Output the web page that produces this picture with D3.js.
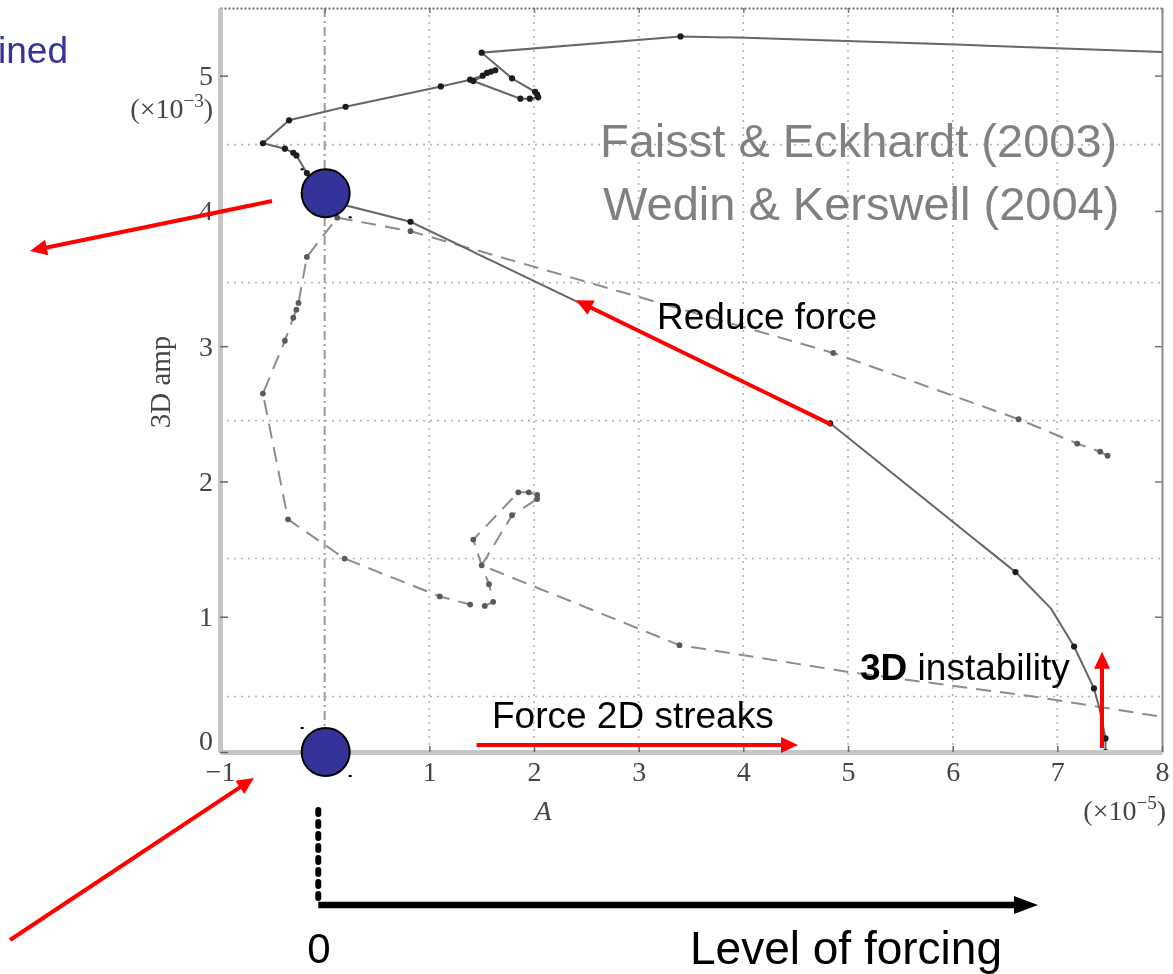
<!DOCTYPE html>
<html>
<head>
<meta charset="utf-8">
<script src="https://cdn.jsdelivr.net/npm/d3@7"></script>
<style>
  html, body { margin: 0; padding: 0; background: #fff; overflow: hidden; }
  svg { display: block; }
</style>
</head>
<body>
<svg id="chart" width="1173" height="974"></svg>
<script>
// ---- data ----------------------------------------------------------------
const xTicks = [-1, 0, 1, 2, 3, 4, 5, 6, 7, 8];      // A (x10^-5)
const yTicks = [0, 1, 2, 3, 4, 5];                    // 3D amp (x10^-3)
const hGrid  = [0.41, 1.43, 2.45, 3.47, 4.49];        // horizontal grid levels

// upper branch (solid): [A, 3D amp, computed point?]
const upperBranch = [
  [7.46, 0.00, 1], [7.46, 0.10, 1], [7.40, 0.33, 0], [7.35, 0.47, 1],
  [7.16, 0.78, 1], [6.94, 1.06, 0], [6.60, 1.33, 1], [4.83, 2.43, 1],
  [0.82, 3.92, 1], [0.00, 4.08, 0], [-0.17, 4.28, 1], [-0.27, 4.41, 1],
  [-0.30, 4.43, 1], [-0.38, 4.46, 1], [-0.59, 4.50, 1], [-0.34, 4.67, 1],
  [0.20, 4.77, 1], [1.11, 4.92, 1], [1.39, 4.97, 1], [1.51, 5.00, 1],
  [1.55, 5.02, 1], [1.59, 5.03, 1], [1.63, 5.04, 1], [1.42, 4.96, 1],
  [1.87, 4.83, 1], [1.96, 4.83, 1], [2.04, 4.84, 1], [2.03, 4.86, 1],
  [2.01, 4.88, 1], [1.79, 4.98, 1], [1.50, 5.17, 1], [3.40, 5.29, 1],
  [4.02, 5.28, 0], [6.03, 5.23, 0], [7.06, 5.20, 0], [8.00, 5.175, 0]
];

// lower branch (dashed): [A, 3D amp, computed point?]
const lowerBranch = [
  [7.48, 2.19, 1], [7.41, 2.22, 1], [7.19, 2.28, 1], [6.63, 2.46, 1],
  [4.86, 2.95, 1], [0.82, 3.85, 1], [0.12, 3.95, 1], [-0.17, 3.66, 1],
  [-0.25, 3.32, 1], [-0.27, 3.27, 1], [-0.30, 3.21, 1], [-0.38, 3.04, 1],
  [-0.59, 2.65, 1], [-0.35, 1.72, 1], [0.19, 1.43, 1], [1.10, 1.15, 1],
  [1.39, 1.09, 1], [1.53, 1.08, 1], [1.61, 1.11, 1], [1.57, 1.24, 1],
  [1.50, 1.38, 1], [1.42, 1.57, 1], [1.85, 1.92, 1], [1.95, 1.92, 1],
  [2.03, 1.90, 1], [2.03, 1.87, 1], [1.79, 1.75, 1], [1.50, 1.38, 0],
  [3.39, 0.79, 1], [5.02, 0.59, 0], [6.77, 0.41, 0], [8.00, 0.26, 0]
];

// highlighted states: upper-branch state at zero forcing, laminar state
const states = [[0, 4.13], [0, 0]];

// annotation arrows, [tail, tip] in (A, amp) units
const redArrows = [
  [[-0.503, 4.073], [-2.815, 3.704]],
  [[-3.006, -1.390], [-0.675, -0.192]],
  [[4.84, 2.42], [2.40, 3.34]],
  [[1.452, 0.052], [4.522, 0.052]],
  [[7.427, 0.030], [7.427, 0.741]]
];
const forcingStem  = [[-0.061, -0.429], [-0.061, -1.131]];
const forcingShaft = [[-0.061, -1.131], [6.815, -1.131]];

// ---- scales --------------------------------------------------------------
const svg = d3.select("#chart");
const x = d3.scaleLinear().domain([-1, 8]).range([220, 1162]);
const y = d3.scaleLinear().domain([0, 5.5]).range([752, 8]);

const defs = svg.append("defs");
defs.append("filter").attr("id", "soft")
  .attr("x", "-5%").attr("y", "-5%").attr("width", "110%").attr("height", "110%")
  .append("feGaussianBlur").attr("stdDeviation", 0.55);
defs.append("clipPath").attr("id", "plotClip")
  .append("rect")
  .attr("x", x(-1)).attr("y", y(5.5))
  .attr("width", x(8) - x(-1)).attr("height", y(0) - y(5.5));

const SERIF = "'Liberation Serif', 'DejaVu Serif', serif";
const SANS = "'Liberation Sans', Arial, sans-serif";
const fmtTick = d => d < 0 ? "\u2212" + Math.abs(d) : String(d);

// ---- plot (figure panel) -------------------------------------------------
const plot = svg.append("g").attr("filter", "url(#soft)");

// vertical grid
plot.append("g").selectAll("line")
  .data(xTicks.filter(d => d > -1 && d < 8))
  .join("line")
  .attr("x1", d => x(d)).attr("x2", d => x(d))
  .attr("y1", y(5.5)).attr("y2", y(0))
  .attr("stroke", d => d === 0 ? "#9a9a9a" : "#b4b4b4")
  .attr("stroke-width", d => d === 0 ? 2 : 1.6)
  .attr("stroke-dasharray", d => d === 0 ? "9,4,2,4" : "2,5");

// horizontal grid
plot.append("g").selectAll("line")
  .data(hGrid)
  .join("line")
  .attr("x1", x(-1)).attr("x2", x(8))
  .attr("y1", d => y(d)).attr("y2", d => y(d))
  .attr("stroke", "#b4b4b4").attr("stroke-width", 1.6)
  .attr("stroke-dasharray", "2,5");

// top and right frame
const topAxis = plot.append("g").attr("transform", `translate(0,${y(5.5)})`)
  .call(d3.axisTop(x).tickValues(xTicks).tickSize(-5).tickSizeOuter(0).tickFormat(""));
topAxis.select(".domain").attr("stroke", "#6e6e6e").attr("stroke-width", 2).attr("stroke-dasharray", "2,2");
topAxis.selectAll(".tick line").attr("stroke", "#777").attr("stroke-width", 1.5);

const rightAxis = plot.append("g").attr("transform", `translate(${x(8)},0)`)
  .call(d3.axisRight(y).tickValues(yTicks).tickSize(-7).tickSizeOuter(0).tickFormat(""));
rightAxis.select(".domain").attr("stroke", "#8a8a8a").attr("stroke-width", 2);
rightAxis.selectAll(".tick line").attr("stroke", "#777").attr("stroke-width", 1.5);

// curves
const line = d3.line().x(d => x(d[0])).y(d => y(d[1]));
const curves = plot.append("g").attr("clip-path", "url(#plotClip)");

curves.append("path").datum(lowerBranch)
  .attr("d", line).attr("fill", "none")
  .attr("stroke", "#8c8c8c").attr("stroke-width", 2)
  .attr("stroke-dasharray", "15,9");
curves.append("g").selectAll("circle")
  .data(lowerBranch.filter(d => d[2]))
  .join("circle")
  .attr("cx", d => x(d[0])).attr("cy", d => y(d[1])).attr("r", 2.9)
  .attr("fill", "#5a5a5a");

curves.append("path").datum(upperBranch)
  .attr("d", line).attr("fill", "none")
  .attr("stroke", "#666").attr("stroke-width", 2);
curves.append("g").selectAll("circle")
  .data(upperBranch.filter(d => d[2]))
  .join("circle")
  .attr("cx", d => x(d[0])).attr("cy", d => y(d[1])).attr("r", 3.1)
  .attr("fill", "#1c1c1c");

// left and bottom axes
const xAxis = plot.append("g").attr("transform", `translate(0,${y(0)})`)
  .call(d3.axisBottom(x).tickValues(xTicks).tickSize(-6).tickSizeOuter(0)
    .tickPadding(9).tickFormat(d => d === 0 ? "" : fmtTick(d)));
const yAxis = plot.append("g").attr("transform", `translate(${x(-1)},0)`)
  .call(d3.axisLeft(y).tickValues(yTicks).tickSize(-8).tickSizeOuter(0)
    .tickPadding(7).tickFormat(fmtTick));

[xAxis, yAxis].forEach(ax => {
  ax.select(".domain").attr("stroke", "#c6c6c6").attr("stroke-width", 5);
  ax.selectAll(".tick line").attr("stroke", "#666").attr("stroke-width", 1.5);
  ax.selectAll(".tick text")
    .attr("font-family", SERIF).attr("font-size", 28).attr("fill", "#444");
});
yAxis.selectAll(".tick").filter(d => d === 0).select("text").attr("dy", "-0.1em");

// axis titles and multipliers
const sup = (g, xPos, yPos, exp) => {
  const t = g.append("text").attr("x", xPos).attr("y", yPos)
    .attr("text-anchor", "end").attr("font-family", SERIF)
    .attr("font-size", 28).attr("fill", "#444");
  t.append("tspan").text("(×10");
  t.append("tspan").attr("dy", -11).attr("font-size", 19).text("−" + exp);
  t.append("tspan").attr("dy", 11).text(")");
};
sup(plot, 213, 118, 3);
sup(plot, 1166, 820, 5);

plot.append("text")
  .attr("x", 543).attr("y", 820).attr("text-anchor", "middle")
  .attr("font-family", SERIF).attr("font-style", "italic")
  .attr("font-size", 28).attr("fill", "#444").text("A");

plot.append("text")
  .attr("transform", "translate(160,382) rotate(-90)")
  .attr("text-anchor", "middle").attr("dy", "0.35em")
  .attr("font-family", SERIF).attr("font-size", 29).attr("fill", "#444")
  .text("3D amp");

// ---- overlay annotations -------------------------------------------------
const over = svg.append("g");

over.append("text").attr("x", 68).attr("y", 63).attr("text-anchor", "end")
  .attr("font-family", SANS).attr("font-size", 37).attr("fill", "#333399")
  .text("ined");

over.append("g").selectAll("text")
  .data(["Faisst & Eckhardt (2003)", "Wedin & Kerswell (2004)"])
  .join("text")
  .attr("x", (d, i) => i ? 603 : 600).attr("y", (d, i) => 157 + i * 63)
  .attr("font-family", SANS).attr("font-size", 47).attr("fill", "#808080")
  .text(d => d);

over.append("text").attr("x", 657).attr("y", 329)
  .attr("font-family", SANS).attr("font-size", 37).attr("fill", "#000")
  .text("Reduce force");

over.append("text").attr("x", 492).attr("y", 728)
  .attr("font-family", SANS).attr("font-size", 37).attr("fill", "#000")
  .text("Force 2D streaks");

const inst = over.append("text").attr("x", 860).attr("y", 680)
  .attr("font-family", SANS).attr("font-size", 37).attr("fill", "#000");
inst.append("tspan").attr("font-weight", "bold").text("3D");
inst.append("tspan").text(" instability");

// arrow helper: shaft shortened to the base of a triangular head
function arrow(g, p0, p1, color, width, headLen, headHalf) {
  const [x0, y0] = [x(p0[0]), y(p0[1])];
  const [x1, y1] = [x(p1[0]), y(p1[1])];
  const len = Math.hypot(x1 - x0, y1 - y0);
  const ux = (x1 - x0) / len, uy = (y1 - y0) / len;
  const bx = x1 - ux * headLen, by = y1 - uy * headLen;
  g.append("line")
    .attr("x1", x0).attr("y1", y0).attr("x2", bx + ux * 1).attr("y2", by + uy * 1)
    .attr("stroke", color).attr("stroke-width", width);
  g.append("polygon")
    .attr("points", [
      [x1, y1],
      [bx - uy * headHalf, by + ux * headHalf],
      [bx + uy * headHalf, by - ux * headHalf]
    ].map(p => p.join(",")).join(" "))
    .attr("fill", color);
}

redArrows.forEach(([a, b]) => arrow(over, a, b, "#ff0000", 4, 17, 8));

// level-of-forcing axis
over.append("line")
  .attr("x1", x(forcingStem[0][0])).attr("y1", y(forcingStem[0][1]))
  .attr("x2", x(forcingStem[1][0])).attr("y2", y(forcingStem[1][1]) - 4)
  .attr("stroke", "#000").attr("stroke-width", 6)
  .attr("stroke-linecap", "round").attr("stroke-dasharray", "4,8");
arrow(over, forcingShaft[0], forcingShaft[1], "#000", 6.5, 24, 9);

over.append("text").attr("x", 319).attr("y", 963).attr("text-anchor", "middle")
  .attr("font-family", SANS).attr("font-size", 42).attr("fill", "#000").text("0");
over.append("text").attr("x", 690).attr("y", 964)
  .attr("font-family", SANS).attr("font-size", 46).attr("fill", "#000")
  .text("Level of forcing");

// highlighted states
const R = 24;
const st = over.append("g").selectAll("g").data(states).join("g")
  .attr("transform", d => `translate(${x(d[0]) + 1},${y(d[1])})`);
st.append("circle").attr("r", R)
  .attr("fill", "#333399").attr("stroke", "#000").attr("stroke-width", 2);
st.append("rect").attr("x", -R - 1).attr("y", -R - 1).attr("width", 3).attr("height", 2).attr("fill", "#000");
st.append("rect").attr("x", R - 1).attr("y", R - 1).attr("width", 3).attr("height", 2).attr("fill", "#000");
</script>
</body>
</html>
